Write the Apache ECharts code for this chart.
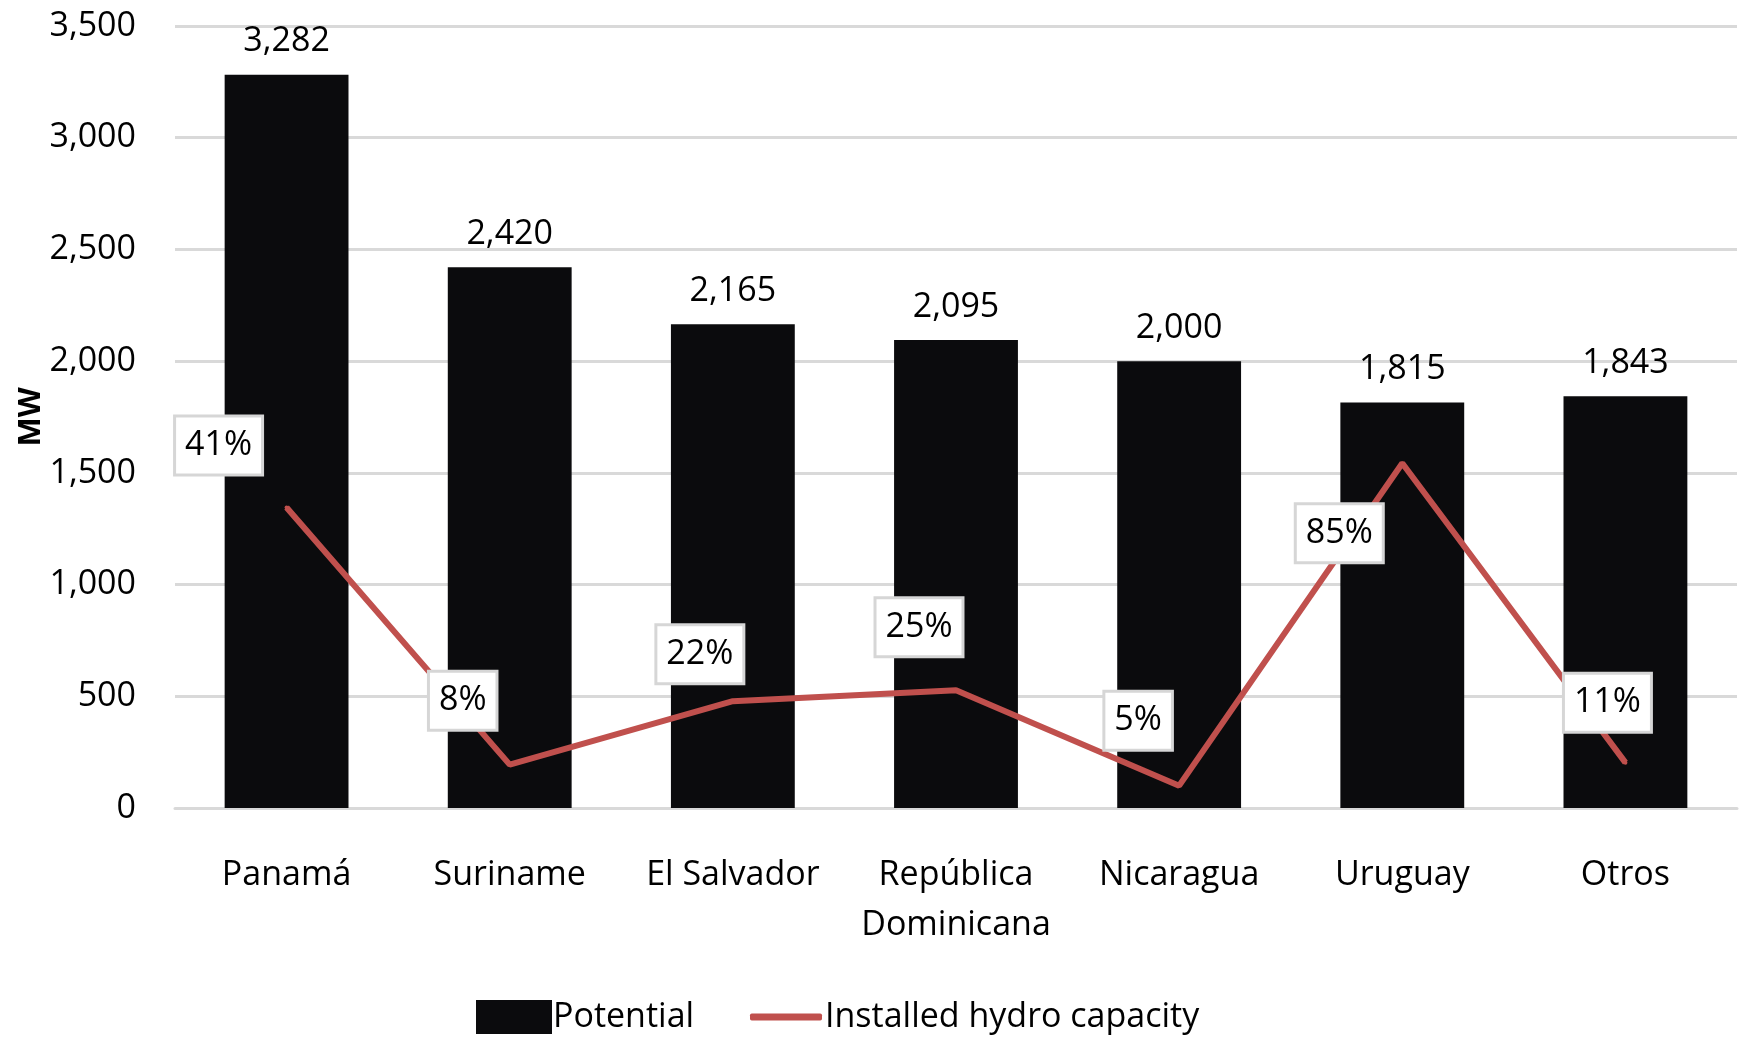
<!DOCTYPE html>
<html>
<head>
<meta charset="utf-8">
<script src="https://cdn.jsdelivr.net/npm/echarts@6/dist/echarts.min.js"></script>
<style>
  html, body { margin: 0; padding: 0; background: #ffffff; }
  #chart { width: 1739px; height: 1038px; }
</style>
</head>
<body>
<div id="chart"></div>
<script>
// Hydropower potential vs. installed hydro capacity (MW)
const countries = ['Panamá', 'Suriname', 'El Salvador', 'República\nDominicana', 'Nicaragua', 'Uruguay', 'Otros'];
const potentialMW = [3282, 2420, 2165, 2095, 2000, 1815, 1843];
const installedMW = [1345, 194, 478, 527, 100, 1543, 203];
const installedShare = ['41%', '8%', '22%', '25%', '5%', '85%', '11%'];
const yAxisMin = 0;
const yAxisMax = 3500;
const yAxisStep = 500;

// where each percentage box sits relative to its point
const shareLabelShift = [[-68, -62], [-47, -64], [-33, -47], [-37, -63], [-41, -65], [-63, 70], [-18, -60]];

const FONT = '"Open Sans", "Noto Sans", sans-serif';
const RED = '#c0504d';
const BAR = '#0b0b0d';
const GRID = '#d9d9d9';
const fmt = v => Number(v).toLocaleString('en-US');

const chart = echarts.init(document.getElementById('chart'), null, { renderer: 'canvas' });

chart.setOption({
  backgroundColor: '#ffffff',
  animation: false,
  textStyle: { fontFamily: FONT, color: '#000' },
  grid: { left: 175, right: 2, top: 26, bottom: 230, containLabel: false, outerBoundsMode: 'none' },
  legend: [
    {
      left: 471, top: 995,
      itemWidth: 76, itemHeight: 34, itemGap: 0,
      data: [{ name: 'Potential', icon: 'rect' }],
      textStyle: { fontFamily: FONT, fontSize: 34, color: '#000', padding: [0, 0, 0, -4] }
    },
    {
      left: 745, top: 995,
      itemWidth: 72, itemHeight: 7, itemGap: 0,
      data: [{ name: 'Installed hydro capacity', icon: 'roundRect' }],
      textStyle: { fontFamily: FONT, fontSize: 34, color: '#000', padding: [0, 0, 0, -2] }
    }
  ],
  xAxis: {
    type: 'category',
    data: countries,
    axisTick: { show: false },
    axisLine: { lineStyle: { color: GRID, width: 3 } },
    axisLabel: {
      fontFamily: FONT, fontSize: 34, color: '#000',
      margin: 42, lineHeight: 50, interval: 0
    }
  },
  yAxis: {
    type: 'value',
    min: yAxisMin, max: yAxisMax, interval: yAxisStep,
    name: 'MW',
    nameLocation: 'middle',
    nameRotate: 90,
    nameGap: 128,
    nameMoveOverlap: false,
    nameTextStyle: { fontFamily: FONT, fontSize: 31, fontWeight: 'bold', color: '#000' },
    axisLine: { show: false },
    axisTick: { show: false },
    axisLabel: { fontFamily: FONT, fontSize: 34, color: '#000', margin: 39, formatter: fmt },
    splitLine: { lineStyle: { color: GRID, width: 3 } }
  },
  series: [
    {
      name: 'Potential',
      type: 'bar',
      data: potentialMW,
      barWidth: '55.5%',
      itemStyle: { color: BAR },
      label: {
        show: true, position: 'top', distance: 16,
        fontFamily: FONT, fontSize: 34, color: '#000',
        formatter: p => fmt(p.value)
      },
      z: 2
    },
    {
      name: 'Installed hydro capacity',
      type: 'line',
      data: installedMW.map((v, i) => ({
        value: v,
        label: { offset: shareLabelShift[i] }
      })),
      symbol: 'circle',
      symbolSize: 4,
      itemStyle: { color: RED },
      lineStyle: { color: RED, width: 6 },
      label: {
        show: true,
        position: 'inside',
        formatter: p => installedShare[p.dataIndex],
        fontFamily: FONT, fontSize: 34, color: '#000',
        lineHeight: 42,
        backgroundColor: '#ffffff',
        borderColor: '#d6d6d6',
        borderWidth: 3,
        padding: [7, 9]
      },
      z: 5
    }
  ]
});
</script>
</body>
</html>
